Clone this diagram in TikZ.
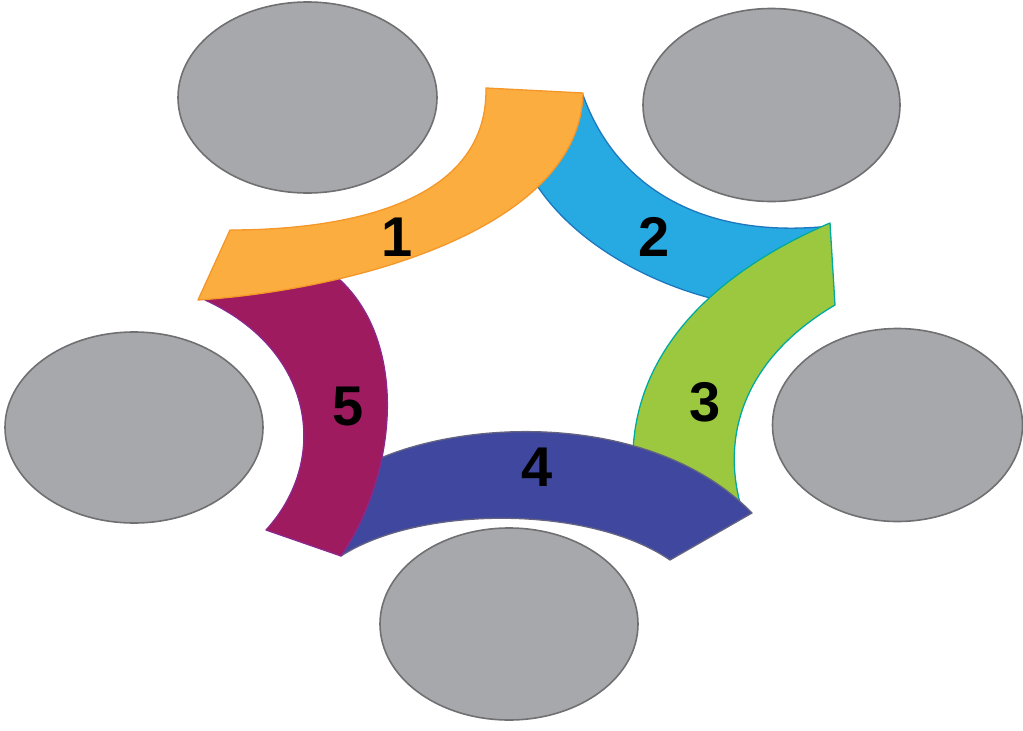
\documentclass[tikz,border=0pt]{standalone}
\usepackage{fontspec}
\setmainfont{Liberation Sans}
\begin{document}
\begin{tikzpicture}[x=1pt,y=-1pt,
  blob/.style={fill=ellgrey,draw=ellline,line width=1.6pt},
  band/.style={line width=1.3pt,line join=round},
  numlabel/.style={font=\fontsize{56}{60}\selectfont\bfseries,text=black,inner sep=0pt}]
\definecolor{ellgrey}{RGB}{167,168,172}
\definecolor{ellline}{RGB}{112,112,114}
\definecolor{cOrange}{RGB}{251,173,64}
\definecolor{lOrange}{RGB}{245,150,40}
\definecolor{cBlue}{RGB}{39,170,225}
\definecolor{lBlue}{RGB}{28,120,190}
\definecolor{cGreen}{RGB}{155,200,63}
\definecolor{lGreen}{RGB}{0,170,160}
\definecolor{cNavy}{RGB}{63,72,158}
\definecolor{lNavy}{RGB}{100,100,130}
\definecolor{cMagenta}{RGB}{158,27,96}
\definecolor{lMagenta}{RGB}{140,40,140}
\useasboundingbox (0,0) rectangle (1023,731);
% ellipses
\draw[blob] (307.5,97.5) ellipse [x radius=129.5, y radius=95.5];
\draw[blob] (771.5,105) ellipse [x radius=128.5, y radius=96.5];
\draw[blob] (897.5,425) ellipse [x radius=125, y radius=96.5];
\draw[blob] (509,624) ellipse [x radius=129, y radius=96];
\draw[blob] (134,427.5) ellipse [x radius=129, y radius=95.5];
% band 2 (blue)
\filldraw[band,fill=cBlue,draw=lBlue]
  (583,95) .. controls (615,185) and (700,240) .. (830,226)
  -- (775,308)
  .. controls (690,305) and (575,255) .. (530,174)
  -- cycle;
% band 3 (green)
\filldraw[band,fill=cGreen,draw=lGreen]
  (830,223) .. controls (720,270) and (628,350) .. (633,470)
  -- (742,510)
  .. controls (718,430) and (750,355) .. (835,305)
  -- cycle;
% band 4 (navy)
\filldraw[band,fill=cNavy,draw=lNavy]
  (360,468) .. controls (450,418) and (650,408) .. (752,513)
  -- (670,560)
  .. controls (590,505) and (420,505) .. (341,556)
  -- cycle;
% band 5 (magenta)
\filldraw[band,fill=cMagenta,draw=lMagenta]
  (205,300) .. controls (315,350) and (330,460) .. (266,530)
  -- (341,556)
  .. controls (400,470) and (410,330) .. (328,270)
  -- cycle;
% band 1 (orange)
\filldraw[band,fill=cOrange,draw=lOrange]
  (230,230) .. controls (330,230) and (488,210) .. (486,88)
  -- (583,93)
  .. controls (580,230) and (350,290) .. (198,300)
  -- cycle;
% labels
\node[numlabel] (n1) at (397,237) {1};
\node[numlabel] (n2) at (654,237) {2};
\node[numlabel] (n3) at (705,402) {3};
\node[numlabel] (n4) at (537,467) {4};
\node[numlabel] (n5) at (348,407) {5};
\end{tikzpicture}
\end{document}
